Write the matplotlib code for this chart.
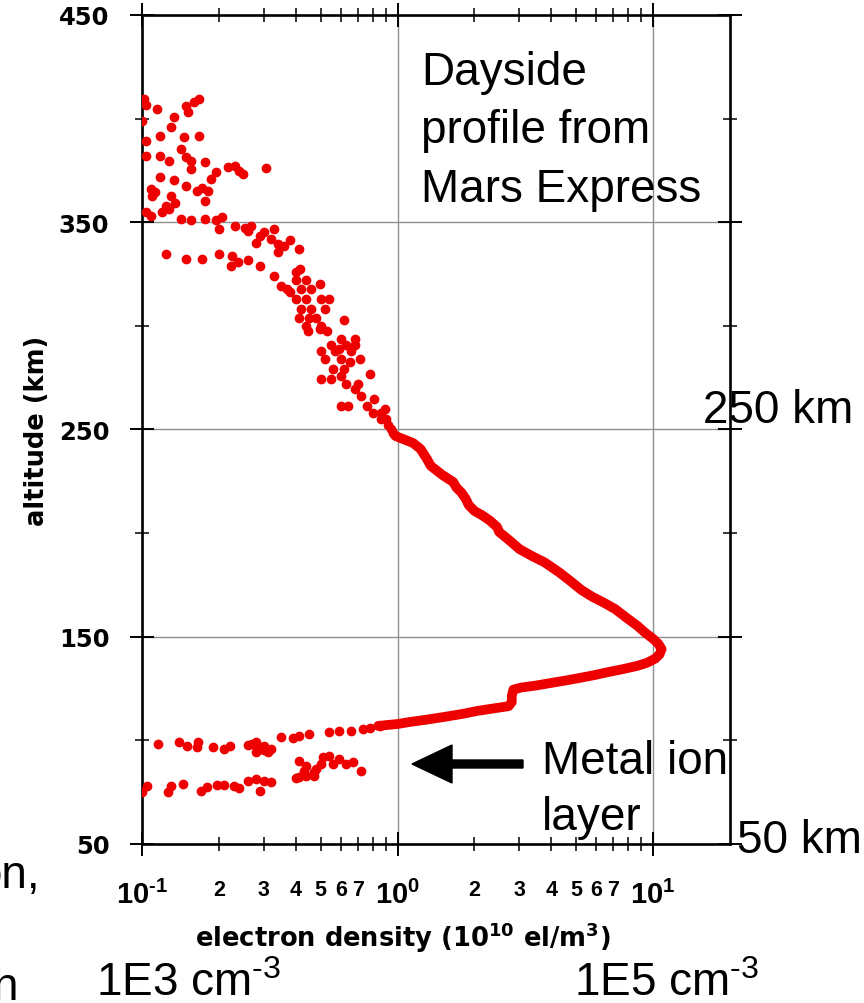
import matplotlib
matplotlib.use('Agg')
import matplotlib.pyplot as plt
from matplotlib import font_manager
from matplotlib.patches import FancyArrow
from matplotlib.transforms import IdentityTransform

# ---------------- data (altitude km, electron density 1e10 el/m^3) ----------------
curve_alt = [107.0, 107.9, 108.9, 110.0, 111.3, 112.8, 114.2, 115.5, 116.5, 118.5,
             121.5, 124.5, 125.5, 126.5, 127.5, 128.8, 130.0, 131.5, 133.0, 134.5,
             136.0, 137.5, 139.5, 141.5, 144.0, 146.5, 149.0, 152.0, 155.2, 159.0,
             163.4, 166.5, 169.2, 172.5, 176.4, 181.0, 186.0, 189.0, 192.3, 195.5,
             198.0, 200.5, 203.0, 206.0, 208.5, 210.7, 213.5, 216.5, 219.5, 222.0,
             224.7, 228.0, 232.4, 236.0, 240.6, 243.5, 246.9]
curve_dens = [0.84, 1.00, 1.12, 1.30, 1.52, 1.80, 2.05, 2.40, 2.72, 2.80,
              2.80, 2.84, 3.05, 3.50, 3.90, 4.50, 5.10, 5.90, 6.70, 7.70,
              8.70, 9.50, 10.2, 10.6, 10.8, 10.5, 10.0, 9.3, 8.7, 7.9,
              7.1, 6.4, 5.8, 5.25, 4.8, 4.3, 3.75, 3.35, 3.00, 2.80,
              2.65, 2.50, 2.45, 2.30, 2.15, 2.00, 1.90, 1.85, 1.78, 1.70,
              1.65, 1.50, 1.35, 1.30, 1.23, 1.15, 0.98]

top_alt = [409.5, 406.5, 404.6, 406.0, 409.5, 408.0, 403.0, 398.9, 400.8, 396.0,
           391.6, 389.2, 391.0, 391.6, 385.3, 382.0, 382.0, 379.6, 381.5, 379.1,
           379.6, 375.7, 374.2, 376.6, 377.0, 373.3, 374.5, 376.1, 370.9, 371.8,
           370.5, 366.0, 364.5, 367.5, 365.0, 365.0, 366.5, 360.3, 362.7, 362.7,
           359.5, 357.8, 356.5, 354.9, 354.9, 353.0, 351.6, 351.2, 351.6, 351.2,
           352.5, 346.7, 348.2, 347.0, 348.2, 345.3, 346.7, 342.0, 338.5, 341.5,
           335.6, 343.5, 340.0, 334.7, 332.3, 332.3, 334.7, 333.7, 330.8, 329.0,
           332.0, 329.0, 324.0, 319.0, 316.3, 326.0, 322.0, 322.0, 318.0, 318.0,
           318.0, 313.0, 313.0, 313.0, 308.0, 308.0, 308.0, 304.0, 304.0, 304.0,
           300.0, 300.0, 297.5, 297.5, 293.7, 293.7, 291.0, 291.0, 288.0, 288.0,
           288.0, 284.0, 284.0, 282.5, 279.0, 279.0, 276.0, 274.4, 274.4, 272.0,
           272.0, 269.5, 266.2, 264.7, 261.3, 261.3, 261.3, 258.0, 258.0, 255.0,
           255.0, 252.0, 250.3, 248.5,
           327.5, 320.0, 313.0, 303.0, 298.5, 284.0, 276.8, 260.0, 288.8, 291.0,
           345.8, 339.5, 337.0]
top_dens = [0.102, 0.104, 0.114, 0.148, 0.167, 0.160, 0.152, 0.100, 0.133, 0.130,
            0.118, 0.104, 0.146, 0.167, 0.142, 0.104, 0.118, 0.127, 0.148, 0.177,
            0.156, 0.155, 0.194, 0.218, 0.232, 0.249, 0.240, 0.306, 0.187, 0.118,
            0.133, 0.108, 0.112, 0.149, 0.164, 0.182, 0.172, 0.177, 0.109, 0.130,
            0.135, 0.124, 0.128, 0.120, 0.104, 0.108, 0.142, 0.156, 0.177, 0.194,
            0.205, 0.200, 0.232, 0.254, 0.268, 0.300, 0.330, 0.320, 0.360, 0.380,
            0.340, 0.290, 0.280, 0.124, 0.149, 0.171, 0.200, 0.224, 0.238, 0.222,
            0.260, 0.290, 0.330, 0.350, 0.380, 0.400, 0.40, 0.44, 0.37, 0.42,
            0.46, 0.40, 0.44, 0.50, 0.42, 0.46, 0.52, 0.41, 0.45, 0.48,
            0.44, 0.50, 0.447, 0.53, 0.60, 0.68, 0.55, 0.63, 0.50, 0.57,
            0.66, 0.52, 0.60, 0.65, 0.56, 0.62, 0.60, 0.50, 0.55, 0.63,
            0.70, 0.68, 0.72, 0.81, 0.60, 0.64, 0.76, 0.80, 0.86, 0.86,
            0.90, 0.92, 0.94, 0.96,
            0.414, 0.496, 0.54, 0.62, 0.496, 0.71, 0.78, 0.89, 0.59, 0.68,
            0.26, 0.34, 0.41]

low_alt = [106.9, 105.9, 105.5, 104.5, 104.5, 104.0, 103.1, 102.1, 101.1, 101.6,
           95.8, 94.4, 97.3, 99.2, 94.4, 98.3, 97.3, 95.8, 96.8, 99.2,
           96.8, 97.3, 99.2, 98.3, 96.0, 95.5, 97.8]
low_dens = [0.85, 0.78, 0.73, 0.66, 0.59, 0.54, 0.45, 0.41, 0.39, 0.35,
            0.32, 0.31, 0.30, 0.28, 0.28, 0.27, 0.22, 0.21, 0.19, 0.165,
            0.164, 0.15, 0.14, 0.115, 0.29, 0.30, 0.26]

metal_alt = [85.2, 89.6, 88.6, 91.0, 88.6, 92.5, 92.0, 88.6, 86.2, 84.7,
             87.6, 85.2, 90.0, 82.3, 82.8, 82.8, 81.8, 79.9, 80.4, 75.6,
             81.4, 80.4, 77.0, 78.0, 78.5, 78.5, 77.5, 75.6, 78.9, 78.0,
             75.1, 78.0, 75.1]
metal_dens = [0.72, 0.67, 0.63, 0.59, 0.56, 0.54, 0.51, 0.50, 0.48, 0.47,
              0.44, 0.43, 0.41, 0.41, 0.44, 0.47, 0.40, 0.32, 0.30, 0.29,
              0.28, 0.26, 0.24, 0.23, 0.21, 0.196, 0.18, 0.17, 0.145, 0.13,
              0.126, 0.105, 0.10]

y_major = [50, 150, 250, 350, 450]
y_minor = [100, 200, 300, 400]
x_major = [0.1, 1, 10]
x_major_labels = ['10$^{\\mathregular{\u20101}}$', '10$^{\\mathregular{0}}$', '10$^{\\mathregular{1}}$']
x_minor = [0.2, 0.3, 0.4, 0.5, 0.6, 0.7, 0.8, 0.9, 2, 3, 4, 5, 6, 7, 8, 9]
x_minor_labels = ['2', '3', '4', '5', '6', '7', '', '', '2', '3', '4', '5', '6', '7', '', '']

# ---------------- fonts ----------------
names = {f.name for f in font_manager.fontManager.ttflist}
NARROW = 'Liberation Sans Narrow' if 'Liberation Sans Narrow' in names else 'Liberation Sans'
ARIAL = 'Liberation Sans'

W, H = 864, 1004
fig = plt.figure(figsize=(W / 100, H / 100), dpi=100)
fig.patch.set_facecolor('white')


def fx(px):
    return px / W


def fy(py):
    return 1 - py / H


ax = fig.add_axes([fx(142), fy(845), (730 - 142) / W, (845 - 16) / H])
ax.set_xscale('log')

red = '#ee0000'
ax.plot(curve_dens, curve_alt, color=red, lw=7.0, solid_capstyle='round',
        solid_joinstyle='round', zorder=3)
ax.plot(top_dens, top_alt, 'o', color=red, ms=6, mec=red, zorder=3)
ax.plot(low_dens, low_alt, 'o', color=red, ms=6, mec=red, zorder=3)
ax.plot(metal_dens, metal_alt, 'o', color=red, ms=6, mec=red, zorder=3)

ax.set_xlim(0.1, 20)
ax.set_ylim(50, 450)

ax.set_xticks(x_major, labels=x_major_labels)
ax.set_xticks(x_minor, labels=x_minor_labels, minor=True)
ax.set_yticks(y_major, labels=[str(v) for v in y_major])
ax.set_yticks(y_minor, minor=True)
ax.yaxis.set_minor_formatter(matplotlib.ticker.NullFormatter())

ax.tick_params(axis='both', which='major', direction='inout', length=17, width=1.4,
               top=True, right=True, color='black')
ax.tick_params(axis='both', which='minor', direction='inout', length=10, width=1.1,
               top=True, right=True, color='black')
ax.tick_params(axis='y', which='major', pad=15)
ax.tick_params(axis='x', which='major', pad=17)
ax.tick_params(axis='x', which='minor', pad=20)

for lab in ax.get_yticklabels():
    lab.set_fontfamily('DejaVu Sans')
    lab.set_fontweight('bold')
    lab.set_fontsize(17.5)
for lab in ax.get_xticklabels():
    lab.set_fontfamily(NARROW)
    lab.set_fontweight('bold')
    lab.set_fontsize(21)
for lab in ax.get_xticklabels(minor=True):
    lab.set_fontfamily(NARROW)
    lab.set_fontweight('bold')
    lab.set_fontsize(15.5)

ax.grid(True, which='major', color='#8f8f8f', lw=1.0)
for s in ax.spines.values():
    s.set_linewidth(1.9)
    s.set_color('black')

# axis titles
fig.text(fx(37), fy(431), 'altitude (km)', rotation=90, ha='center', va='center',
         fontfamily='DejaVu Sans', fontweight='bold', fontsize=18.5)
fig.text(fx(403), fy(947), r'electron density (10$^{\mathregular{10}}$ el/m$^{\mathregular{3}}$)',
         ha='center', va='baseline', fontfamily='DejaVu Sans', fontweight='bold', fontsize=18.5)

# annotations
big = dict(fontfamily=ARIAL, fontsize=33, va='baseline', ha='left', color='black')
fig.text(fx(421), fy(85), 'Dayside', **big)
fig.text(fx(421), fy(143), 'profile from', **big)
fig.text(fx(421), fy(202), 'Mars Express', **big)
fig.text(fx(703), fy(423), '250 km', **big)
fig.text(fx(737), fy(853), '50 km', **big)
fig.text(fx(542), fy(774), 'Metal ion', **big)
fig.text(fx(542), fy(830), 'layer', **big)
fig.text(fx(96), fy(996), '1E3 cm$^{\\mathregular{\u20103}}$', **big)
fig.text(fx(574), fy(996), '1E5 cm$^{\\mathregular{\u20103}}$', **big)
fig.text(fx(40), fy(888), 'on,', fontfamily=ARIAL, fontsize=33, va='baseline', ha='right')
fig.text(fx(18), fy(1000), 'h', fontfamily=ARIAL, fontsize=33, va='baseline', ha='right')

arrow = FancyArrow(523, H - 765, -111, 0, width=8, head_width=38, head_length=40,
                   length_includes_head=True, color='black', transform=IdentityTransform())
fig.add_artist(arrow)

fig.savefig('out.png', dpi=100, facecolor='white')
